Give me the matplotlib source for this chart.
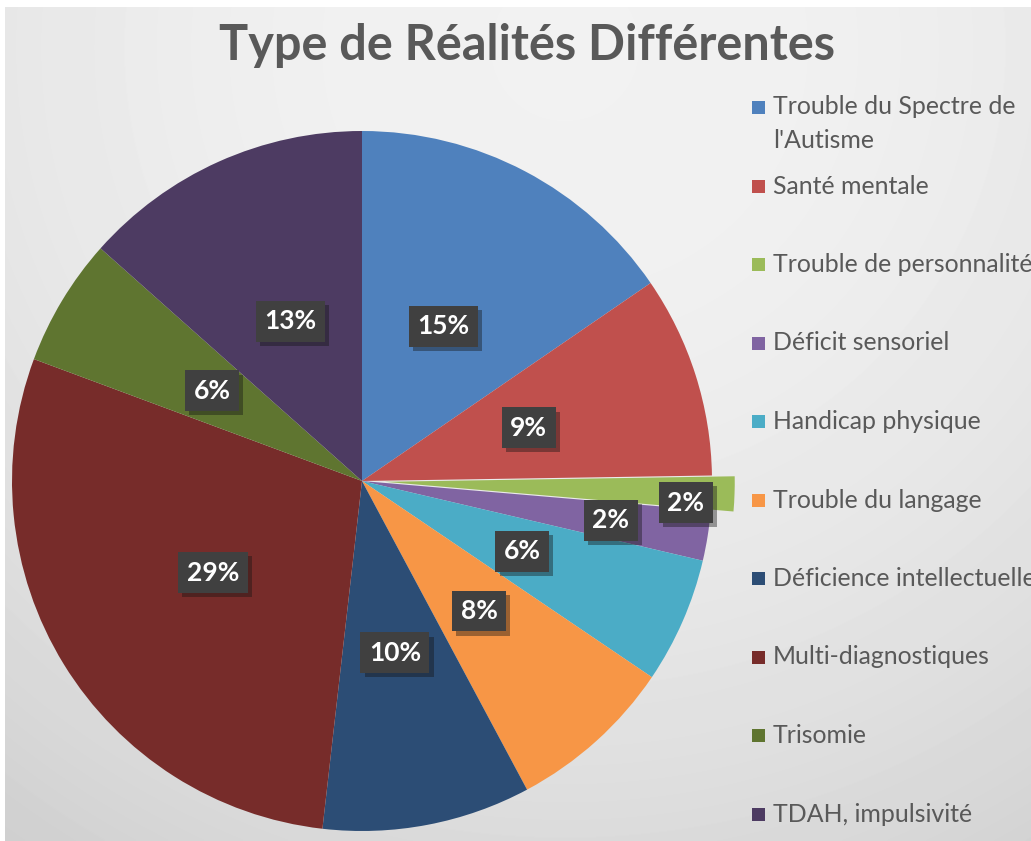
import matplotlib.pyplot as plt
import matplotlib.patheffects as pe
from matplotlib.patches import Rectangle
import numpy as np

categories = [
    "Trouble du Spectre de\nl'Autisme",
    "Santé mentale",
    "Trouble de personnalité",
    "Déficit sensoriel",
    "Handicap physique",
    "Trouble du langage",
    "Déficience intellectuelle",
    "Multi-diagnostiques",
    "Trisomie",
    "TDAH, impulsivité",
]
values = [15.4, 9.3, 1.6, 2.3, 5.8, 7.7, 9.6, 28.8, 5.9, 13.4]
colors = ['#4F81BD', '#C0504D', '#9BBB59', '#8064A2', '#4BACC6',
          '#F79646', '#2C4D75', '#772C2A', '#5F7530', '#4D3B62']

plt.rcParams['font.family'] = ['Lato', 'DejaVu Sans']

W, H = 1031, 841
fig = plt.figure(figsize=(W / 100, H / 100), dpi=100, facecolor='white')

# --- fond dégradé gris ---
ax_bg = fig.add_axes([5 / W, 0, 1 - 5 / W, (H - 7) / H])
yy, xx = np.mgrid[0:H - 7, 0:W - 5]
d2 = (xx - 560.0) ** 2 + (yy - 40.0) ** 2
shade = np.clip(0.95 - 1.45e-7 * d2, 0.79, 0.95)
ax_bg.imshow(shade, cmap='gray', vmin=0, vmax=1, aspect='auto',
             extent=[0, 1, 0, 1], origin='upper', interpolation='bilinear')
ax_bg.axis('off')

# --- camembert ---
cx, cy, R = 362, 481, 350
ax = fig.add_axes([(cx - R) / W, (H - cy - R) / H, 2 * R / W, 2 * R / H])
explode = [0, 0, 0.065, 0, 0, 0, 0, 0, 0, 0]
wedges, _ = ax.pie(values, colors=colors, startangle=90, counterclock=False,
                   explode=explode, radius=1,
                   wedgeprops=dict(linewidth=0))
for w in wedges:
    w.set_clip_on(False)
ax.set_xlim(-1, 1)
ax.set_ylim(-1, 1)
ax.set_aspect('equal')
ax.axis('off')

# étiquettes de pourcentage
total = sum(values)
label_r = {2: 0.86, 3: 0.72}
for i, (w, v) in enumerate(zip(wedges, values)):
    ang = np.deg2rad((w.theta1 + w.theta2) / 2)
    r = label_r.get(i, 0.5)
    ox, oy = w.center
    x = ox + r * np.cos(ang)
    y = oy + r * np.sin(ang)
    if i == 2:
        y -= 0.03
    t = ax.text(x, y, f'{100 * v / total:.0f}%', ha='center', va='center',
                color='white', fontsize=19, fontweight='bold',
                bbox=dict(boxstyle='square,pad=0.32', facecolor='#404040',
                          edgecolor='none'))
    t.get_bbox_patch().set_path_effects(
        [pe.withSimplePatchShadow(offset=(3, -3), alpha=0.4), pe.Normal()])

# --- titre ---
fig.text(527 / W, 1 - 45 / H, 'Type de Réalités Différentes', ha='center',
         va='center', fontsize=35, fontweight='bold', color='#595959')

# --- légende ---
leg_y = [107] + [186 + 78.5 * k for k in range(len(categories) - 1)]
for lab, col, ly in zip(categories, colors, leg_y):
    fig.patches.append(Rectangle((752 / W, 1 - (ly + 6.5) / H), 13 / W, 13 / H,
                                 transform=fig.transFigure, facecolor=col,
                                 edgecolor='none'))
    lines = lab.split('\n')
    for j, ln in enumerate(lines):
        fig.text(773 / W, 1 - (ly + 33 * j) / H, ln, ha='left', va='center',
                 fontsize=17.9, color='#595959')

fig.savefig('out.png', dpi=100)
